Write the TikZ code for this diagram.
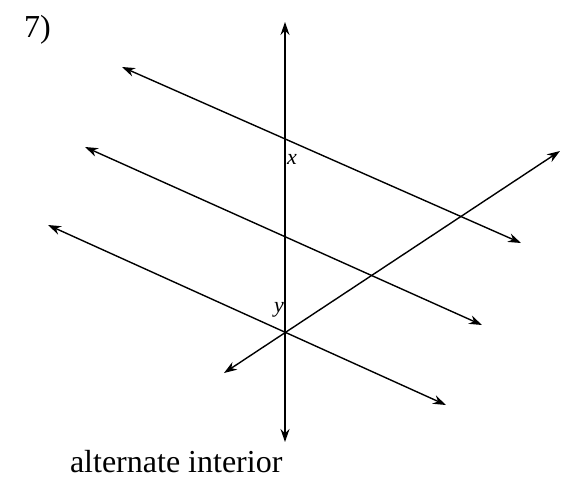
\documentclass[tikz,border=0pt]{standalone}
\usepackage{fontspec}
\setmainfont{Liberation Serif}
\usetikzlibrary{arrows.meta}

\begin{document}
\begin{tikzpicture}[x=1pt, y=-1pt, >={Stealth[length=13pt, width=9pt]}, line width=1.4pt]
    \useasboundingbox (0,0) rectangle (561,485);

    % Line end points
    \coordinate (vtop) at (285,22);
    \coordinate (vbot) at (285,442);
    \coordinate (aleft) at (122,67);
    \coordinate (aright) at (521,243);
    \coordinate (bleft) at (85,147);
    \coordinate (bright) at (482,325);
    \coordinate (cleft) at (48,225);
    \coordinate (cright) at (446,405);
    \coordinate (tleft) at (224,373);
    \coordinate (tright) at (560,151);

    % Vertical transversal
    \draw[<->] (vtop) -- (vbot);

    % Parallel lines
    \draw[<->] (aleft) -- (aright);
    \draw[<->] (bleft) -- (bright);
    \draw[<->] (cleft) -- (cright);

    % Slanted transversal
    \draw[<->] (tleft) -- (tright);

    % Angle labels
    \node[font=\itshape\fontsize{22}{22}\selectfont] (xlab) at (292,159) {x};
    \node[font=\itshape\fontsize{22}{22}\selectfont] (ylab) at (279,310) {y};

    % Problem number and answer
    \node[anchor=west, font=\fontsize{32}{32}\selectfont] (num) at (20,30) {7)};
    \node[anchor=west, font=\fontsize{32}{32}\selectfont] (ans) at (66,462) {alternate interior};
\end{tikzpicture}
\end{document}
